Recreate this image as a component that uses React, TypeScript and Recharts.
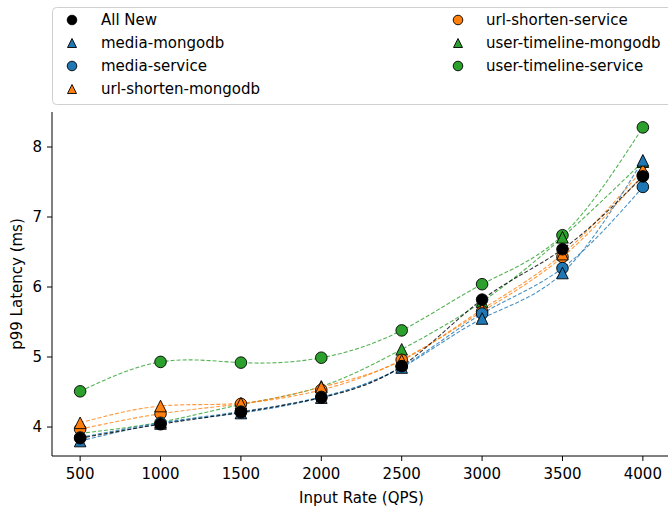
import { LineChart, Line, XAxis, YAxis } from 'recharts'

const inputRates = [500, 1000, 1500, 2000, 2500, 3000, 3500, 4000]
const xTicks = [500, 1000, 1500, 2000, 2500, 3000, 3500, 4000]
const yTicks = [4, 5, 6, 7, 8]

const allNew = [3.84, 4.04, 4.21, 4.42, 4.87, 5.82, 6.54, 7.58]
const mediaMongodb = [3.8, 4.05, 4.2, 4.42, 4.85, 5.55, 6.2, 7.81]
const mediaService = [3.85, 4.06, 4.22, 4.43, 4.86, 5.62, 6.27, 7.43]
const urlShortenMongodb = [4.06, 4.3, 4.34, 4.57, 4.95, 5.68, 6.47, 7.68]
const urlShortenService = [3.97, 4.19, 4.33, 4.53, 4.96, 5.65, 6.43, 7.6]
const userTimelineMongodb = [3.91, 4.07, 4.32, 4.58, 5.11, 5.79, 6.71, 7.79]
const userTimelineService = [4.51, 4.93, 4.92, 4.99, 5.38, 6.04, 6.74, 8.28]

// legend order
const series = [
  { key: 'allNew', name: 'All New', values: allNew, color: '#000000', marker: 'circle' },
  { key: 'mediaMongodb', name: 'media-mongodb', values: mediaMongodb, color: '#1f77b4', marker: 'triangle' },
  { key: 'mediaService', name: 'media-service', values: mediaService, color: '#1f77b4', marker: 'circle' },
  { key: 'urlShortenMongodb', name: 'url-shorten-mongodb', values: urlShortenMongodb, color: '#ff7f0e', marker: 'triangle' },
  { key: 'urlShortenService', name: 'url-shorten-service', values: urlShortenService, color: '#ff7f0e', marker: 'circle' },
  { key: 'userTimelineMongodb', name: 'user-timeline-mongodb', values: userTimelineMongodb, color: '#2ca02c', marker: 'triangle' },
  { key: 'userTimelineService', name: 'user-timeline-service', values: userTimelineService, color: '#2ca02c', marker: 'circle' },
]

// drawing order (later ones sit on top)
const drawOrder = [
  'userTimelineService', 'userTimelineMongodb', 'urlShortenService', 'urlShortenMongodb',
  'mediaService', 'mediaMongodb', 'allNew',
]

const data = inputRates.map((x, i) => {
  const row: any = { x }
  series.forEach((s) => { row[s.key] = s.values[i] })
  return row
})

const FONT = '"DejaVu Sans", Verdana, sans-serif'

function Marker({ cx, cy, color, marker, size }: any) {
  if (cx == null || cy == null) return null
  if (marker === 'triangle') {
    const h = size
    return (
      <path d={`M${cx},${cy - h} L${cx - h},${cy + h} L${cx + h},${cy + h} Z`}
        fill={color} stroke="#000" strokeWidth={0.9} />
    )
  }
  return <circle cx={cx} cy={cy} r={size} fill={color} stroke="#000" strokeWidth={0.9} />
}

function LegendBox() {
  const left = series.slice(0, 4)
  const right = series.slice(4)
  const row = (s: any, i: number, mx: number, tx: number) => (
    <g key={s.key}>
      <Marker cx={mx} cy={20 + i * 23} color={s.color} marker={s.marker} size={s.marker === 'triangle' ? 4.5 : 4.8} />
      <text x={tx} y={20 + i * 23} dy="0.36em" fontSize={15} fontFamily={FONT} fill="#000">{s.name}</text>
    </g>
  )
  return (
    <svg width={668} height={110} style={{ position: 'absolute', left: 0, top: 0 }}>
      <rect x={52.5} y={7.5} width={630} height={97} rx={4} fill="#fff" stroke="#d0d0d0" strokeWidth={1} />
      {left.map((s, i) => row(s, i, 72, 101))}
      {right.map((s, i) => row(s, i, 458, 486))}
    </svg>
  )
}

function YLabel() {
  return (
    <text x={17} y={284} transform="rotate(-90, 17, 284)" textAnchor="middle" dominantBaseline="central"
      fontSize={15} fontFamily={FONT} fill="#000">
      p99 Latency (ms)
    </text>
  )
}

export default function App() {
  return (
    <div style={{ position: 'absolute', left: 0, top: 0, width: 668, height: 506, overflow: 'hidden', background: '#fff' }}>
      <LineChart width={672} height={506} data={data}
        margin={{ top: 112, right: 1, left: 0, bottom: 0 }}
        style={{ fontFamily: FONT }}>
        <XAxis dataKey="x" type="number" domain={[325, 4175]} ticks={xTicks}
          allowDataOverflow height={50} tickSize={5} tickMargin={7}
          tick={{ fontSize: 15, fill: '#000', fontFamily: FONT }}
          axisLine={{ stroke: '#000', strokeWidth: 1 }} tickLine={{ stroke: '#000' }}
          label={{ value: 'Input Rate (QPS)', position: 'insideBottom', offset: 3, fontSize: 15, fill: '#000', fontFamily: FONT }} />
        <XAxis xAxisId="top" dataKey="x" type="number" domain={[325, 4175]} orientation="top"
          height={0} tick={false} tickLine={false} axisLine={{ stroke: '#000', strokeWidth: 1 }} />
        <YAxis type="number" domain={[3.586, 8.5]} ticks={yTicks} allowDataOverflow
          width={52} tickSize={5} tickMargin={5}
          tick={{ fontSize: 15, fill: '#000', fontFamily: FONT }}
          axisLine={{ stroke: '#000', strokeWidth: 1 }} tickLine={{ stroke: '#000' }}
          label={<YLabel />} />
        {drawOrder.map((k) => series.find((s) => s.key === k)!).map((s) => (
          <Line key={s.key} dataKey={s.key} name={s.name} type="natural"
            stroke={s.color} strokeWidth={1.1} strokeDasharray="4 2" strokeOpacity={0.8}
            isAnimationActive={false}
            dot={(p: any) => <Marker key={`${s.key}-${p.index}`} cx={p.cx} cy={p.cy} color={s.color} marker={s.marker} size={s.marker === 'triangle' ? 5.8 : 5.8} />}
            activeDot={false} />
        ))}
      </LineChart>
      <LegendBox />
    </div>
  )
}
